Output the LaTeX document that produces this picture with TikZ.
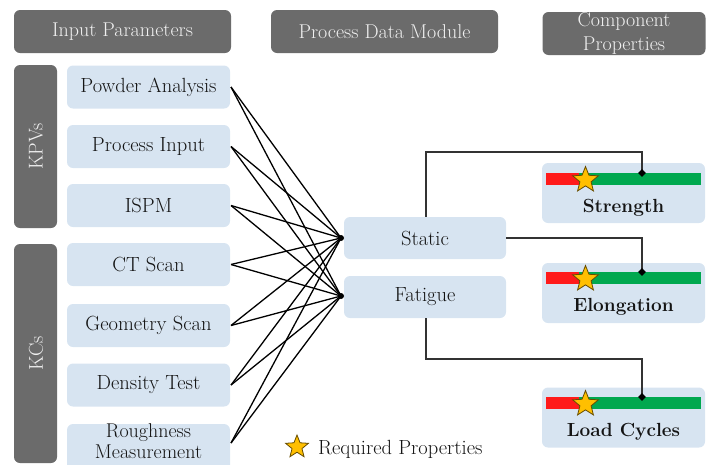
\documentclass[tikz,border=0pt]{standalone}
\usetikzlibrary{shapes.geometric}
\definecolor{hdr}{HTML}{6B6B6B}
\definecolor{lblue}{HTML}{D7E4F1}
\definecolor{rbar}{HTML}{FF1A1A}
\definecolor{gbar}{HTML}{00A84F}
\definecolor{starc}{HTML}{FFBF00}
\definecolor{txt}{HTML}{141414}
\tikzset{
  hdrbox/.style={fill=hdr, rounded corners=6pt, inner sep=0pt, text=white!94!black,
    font=\fontsize{20}{23}\selectfont, align=center},
  inbox/.style={fill=lblue, rounded corners=6pt, inner sep=0pt, text=txt,
    minimum width=163pt, minimum height=43pt, font=\fontsize{20.5}{24}\selectfont, align=center},
  midbox/.style={fill=lblue, rounded corners=6pt, inner sep=0pt, text=txt,
    minimum width=162pt, minimum height=42pt, font=\fontsize{20.5}{24}\selectfont},
  propbox/.style={fill=lblue, rounded corners=6pt, inner sep=0pt,
    minimum width=163pt, minimum height=60pt},
  proplabel/.style={text=txt, font=\bfseries\fontsize{19}{22}\selectfont, inner sep=0pt},
  reqstar/.style={star, star points=5, star point ratio=2.3, fill=starc, draw=black!60!starc,
    line width=0.8pt, inner sep=0pt},
  link/.style={black, line width=1.3pt},
  conn/.style={black!80, line width=1.6pt},
  dot/.style={circle, fill=black, inner sep=0pt, minimum size=6pt},
  tip/.style={diamond, fill=black, inner sep=0pt, minimum size=8pt},
}
\begin{document}
\begin{tikzpicture}[x=1pt,y=-1pt]
\useasboundingbox (0,0) rectangle (711,464);
\clip (0,0) rectangle (711,464);
% headers
\node[hdrbox, minimum width=217pt, minimum height=43pt] (h1) at (122.5,31.5) {Input Parameters};
\node[hdrbox, minimum width=227pt, minimum height=43pt] (h2) at (384.5,31.5) {Process Data Module};
\node[hdrbox, minimum width=163pt, minimum height=43pt, font=\fontsize{20}{24.5}\selectfont] (h3) at (624,33.5) {Component\\Properties};
% side bars
\node[hdrbox, minimum width=43pt, minimum height=163pt] (kpv) at (35.5,146.5) {};
\node[text=white!94!black, font=\fontsize{20}{23}\selectfont, rotate=90, inner sep=0pt] (kpvt) at (36,146.5) {KPVs};
\node[hdrbox, minimum width=43pt, minimum height=219pt] (kc) at (35.5,353.5) {};
\node[text=white!94!black, font=\fontsize{20}{23}\selectfont, rotate=90, inner sep=0pt] (kct) at (36,353.5) {KCs};
% input boxes
\node[inbox] (pa) at (148.5,87) {Powder Analysis};
\node[inbox] (pi) at (148.5,146.5) {Process Input};
\node[inbox] (is) at (148.5,205.5) {ISPM};
\node[inbox] (ct) at (148.5,264.5) {CT Scan};
\node[inbox] (gs) at (148.5,325.5) {Geometry Scan};
\node[inbox] (dt) at (148.5,385) {Density Test};
\node[inbox, minimum height=52pt] (rm) at (148.5,450) {};
\node[text=txt, font=\fontsize{20}{21.5}\selectfont, align=center, inner sep=0pt] (rmt) at (148.5,441) {Roughness\\Measurement};
% middle boxes
\node[midbox] (st) at (425,238) {Static};
\node[midbox] (fa) at (425,297) {Fatigue};
\coordinate (sp) at (341,238);
\coordinate (fp) at (341,296);
% tree lines
\foreach \n/\yy in {pa/87,pi/146.5,is/205.5,ct/264.5,gs/325.5,dt/385,rm/443}{
  \coordinate (s\n) at (231,\yy);
  \draw[link] (s\n) -- (sp);
  \draw[link] (s\n) -- (fp);
}
\node[dot] (spd) at (sp) {};
\node[dot] (fpd) at (fp) {};
% property boxes
\node[propbox] (pstr) at (623.5,193) {};
\node[propbox] (pelo) at (623.5,293) {};
\node[propbox] (plc) at (623.5,417.5) {};
\foreach \b/\yy/\ly/\lab in {str/179/208/Strength, elo/278/307/Elongation, lc/403/432/Load Cycles}{
  \fill[gbar] (546,\yy-6) rectangle (701,\yy+6);
  \fill[rbar] (546,\yy-6) rectangle (579,\yy+6);
  \coordinate (t\b) at (642,\yy-6);
  \node[reqstar, minimum size=27pt] (star\b) at (585.5,\yy+1) {};
  \node[proplabel] (lab\b) at (623.5,\ly) {\lab};
}
% connectors
\coordinate (c1) at (426,152);
\coordinate (c2) at (642,152);
\draw[conn] (st.north -| c1) -- (c1) -- (c2) -- (tstr);
\draw[conn] (st.east) -- (st.east -| telo) -- (telo);
\coordinate (c3) at (426,359);
\draw[conn] (fa.south -| c3) -- (c3) -- (c3 -| tlc) -- (tlc);
\node[tip] at (tstr) {};
\node[tip] at (telo) {};
\node[tip] at (tlc) {};
% legend
\node[reqstar, minimum size=24pt] (lgstar) at (297,447) {};
\node[anchor=west, text=txt, font=\fontsize{20.5}{23}\selectfont, inner sep=0pt] (lgtxt) at (318,449) {Required Properties};
\end{tikzpicture}
\end{document}
